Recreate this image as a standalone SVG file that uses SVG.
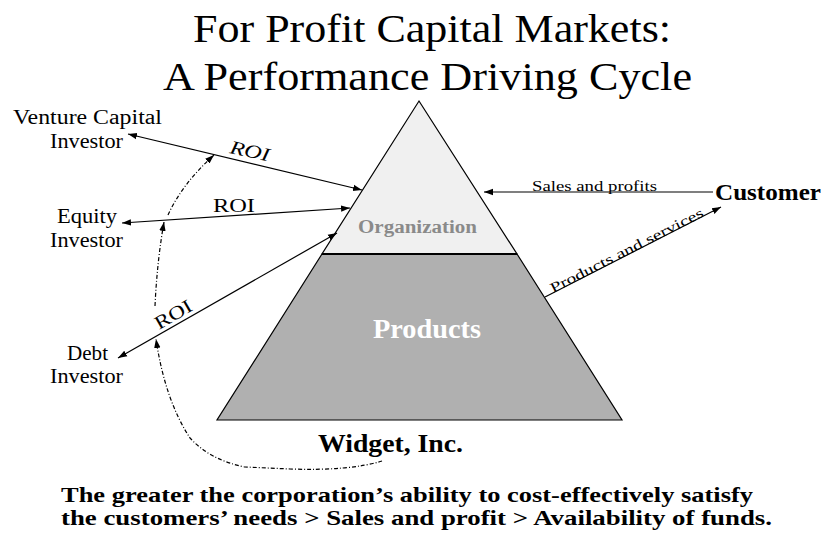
<svg xmlns="http://www.w3.org/2000/svg" width="825" height="534" viewBox="0 0 825 534">
  <style>
    text { font-family: "Liberation Serif", "Times New Roman", serif; fill: #000; }
    .title { font-size: 40px; }
    .label { font-size: 20px; }
    .roi { font-size: 19px; }
    .small { font-size: 14px; }
    .bold { font-weight: bold; }
    .edge { fill: none; stroke: #000; stroke-width: 1.2; }
    .cycle { fill: none; stroke: #000; stroke-width: 1.2; stroke-dasharray: 4 2 1 2; }
  </style>
  <defs>
    <marker id="arrow" markerUnits="userSpaceOnUse" markerWidth="10" markerHeight="8" refX="9" refY="4" orient="auto-start-reverse">
      <path d="M0,0.8 L9,4 L0,7.2 Z" fill="#000"/>
    </marker>
  </defs>

  <!-- heading -->
  <g id="title">
    <text class="title" x="193" y="42" textLength="478" lengthAdjust="spacingAndGlyphs">For Profit Capital Markets:</text>
    <text class="title" x="163" y="90" textLength="529" lengthAdjust="spacingAndGlyphs">A Performance Driving Cycle</text>
  </g>

  <!-- the company pyramid -->
  <g id="products">
    <polygon points="322,254 517,254 622,420 217,420" fill="#b0b0b0" stroke="#000" stroke-width="1.2"/>
    <text class="bold" x="373" y="338" font-size="27" style="fill:#fff" textLength="108" lengthAdjust="spacingAndGlyphs">Products</text>
  </g>
  <g id="organization">
    <polygon points="419,101 517,254 322,254" fill="#f0f0f0" stroke="#000" stroke-width="1.2"/>
    <line x1="322" y1="254" x2="517" y2="254" stroke="#000" stroke-width="2"/>
    <text class="bold" x="358" y="233" font-size="18" style="fill:#8a8a8a" textLength="119" lengthAdjust="spacingAndGlyphs">Organization</text>
  </g>
  <g id="widget">
    <text class="bold" x="318" y="452" font-size="26" textLength="145" lengthAdjust="spacingAndGlyphs">Widget, Inc.</text>
  </g>

  <!-- investors -->
  <g id="venture-capital-investor">
    <text class="label" x="13" y="124" textLength="149" lengthAdjust="spacingAndGlyphs">Venture Capital</text>
    <text class="label" x="50" y="148" textLength="73" lengthAdjust="spacingAndGlyphs">Investor</text>
  </g>
  <g id="equity-investor">
    <text class="label" x="57" y="223" textLength="60" lengthAdjust="spacingAndGlyphs">Equity</text>
    <text class="label" x="50" y="247" textLength="73" lengthAdjust="spacingAndGlyphs">Investor</text>
  </g>
  <g id="debt-investor">
    <text class="label" x="67" y="360" textLength="41" lengthAdjust="spacingAndGlyphs">Debt</text>
    <text class="label" x="50" y="383" textLength="73" lengthAdjust="spacingAndGlyphs">Investor</text>
  </g>

  <!-- customer -->
  <g id="customer">
    <text class="bold" x="715" y="200" font-size="23" textLength="106" lengthAdjust="spacingAndGlyphs">Customer</text>
  </g>

  <!-- flows between the parties -->
  <g id="connectors">
    <line class="edge" x1="128" y1="134" x2="362" y2="190" marker-start="url(#arrow)" marker-end="url(#arrow)"/>
    <line class="edge" x1="122" y1="223" x2="350" y2="208" marker-start="url(#arrow)" marker-end="url(#arrow)"/>
    <line class="edge" x1="118" y1="358" x2="337" y2="233" marker-start="url(#arrow)" marker-end="url(#arrow)"/>
    <line class="edge" x1="713" y1="192" x2="484" y2="192" marker-end="url(#arrow)"/>
    <line class="edge" x1="545" y1="297" x2="721" y2="207" marker-end="url(#arrow)"/>

    <path class="cycle" d="M382,461 Q350,471 290,469 L245,467 Q210,460 190,438 Q165,400 156,339" marker-end="url(#arrow)"/>
    <path class="cycle" d="M155,306 Q157,262 164,222" marker-end="url(#arrow)"/>
    <path class="cycle" d="M168,215 Q182,184 214,155" marker-end="url(#arrow)"/>

    <text class="roi" font-style="italic" transform="translate(229,153) rotate(12)" textLength="40" lengthAdjust="spacingAndGlyphs">ROI</text>
    <text class="roi" x="213" y="212" textLength="42" lengthAdjust="spacingAndGlyphs">ROI</text>
    <text class="roi" transform="translate(159,330) rotate(-30)" textLength="40" lengthAdjust="spacingAndGlyphs">ROI</text>
    <text class="small" x="532" y="191" textLength="125" lengthAdjust="spacingAndGlyphs">Sales and profits</text>
    <text class="small" transform="translate(553,293) rotate(-27)" textLength="170" lengthAdjust="spacingAndGlyphs">Products and services</text>
  </g>

  <!-- summary -->
  <g id="caption">
    <text class="bold" x="61" y="502" font-size="21" textLength="692" lengthAdjust="spacingAndGlyphs">The greater the corporation’s ability to cost-effectively satisfy</text>
    <text class="bold" x="61" y="525" font-size="21" textLength="711" lengthAdjust="spacingAndGlyphs">the customers’ needs &gt; Sales and profit &gt; Availability of funds.</text>
  </g>
</svg>
